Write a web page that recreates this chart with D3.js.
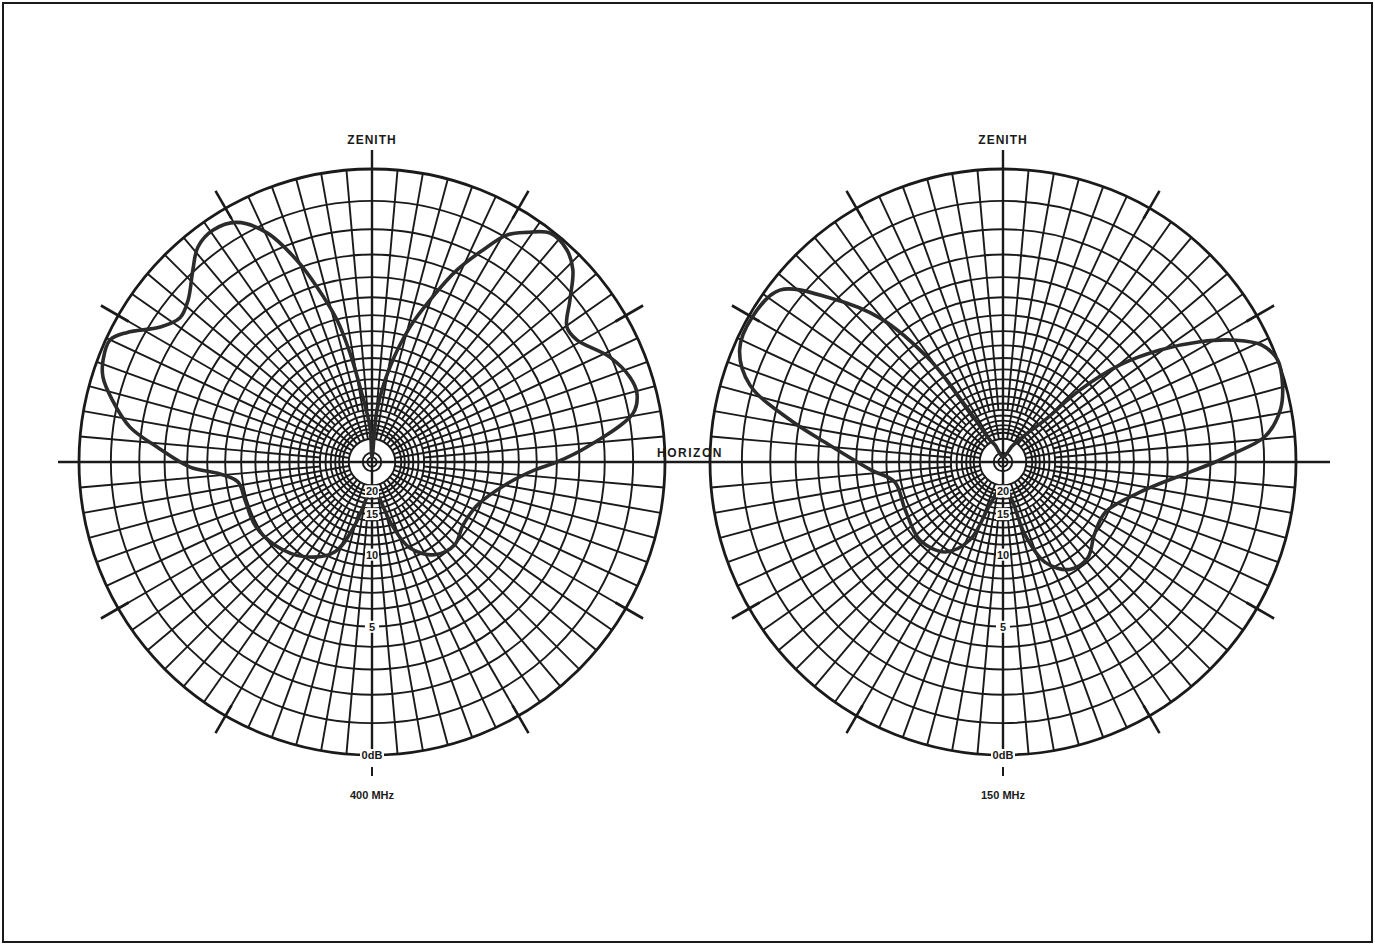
<!DOCTYPE html>
<html>
<head>
<meta charset="utf-8">
<script src="https://cdn.jsdelivr.net/npm/d3@7"></script>
<style>
  body { margin: 0; background: #fff; }
  svg { display: block; }
</style>
</head>
<body>
<svg id="chart" width="1375" height="945"></svg>
<script>
// Grid definition: concentric circles every 1 dB, spokes every 5 degrees
const gridDb = d3.range(0, 21);
const spokeAngles = d3.range(0, 360, 5);
const tickAngles = [30, 60, 120, 150, 210, 240, 300, 330];
const axisLabels = [
  { db: 20, text: "20" },
  { db: 15, text: "15" },
  { db: 10, text: "10" },
  { db: 5, text: "5" },
  { db: 0, text: "0dB" }
];

// Elevation pattern at 400 MHz: angle (deg, counter-clockwise from horizon) and level below peak (dB)
const angles400 = [0, 4, 10.6, 14.6, 18.2, 23.8, 30.8, 34.7, 39.3, 43.7, 47.4, 52.1, 56, 59.3, 62.4, 66.1, 70.3, 74.3, 79.3, 84.5, 90,
  93.3, 99.1, 101.4, 103.8, 107.4, 110.4, 114.6, 119.4, 124.4, 129, 133, 138.6, 143.1, 147.5, 152.1, 155, 159.2, 162.5, 166.6, 171.8, 176, 181.6,
  184.5, 188.5, 196.7, 208.3, 220.6, 234.8, 247.6, 254.9, 263, 270, 280, 287.6, 293.8, 304.1, 315, 325.3, 337.9, 350.2, 357.2];
const db400 = [4.0, 2.67, 0.85, 0.59, 0.66, 1.04, 1.79, 1.84, 1.18, 0.46, 0.15, 0.09, 0.49, 0.91, 1.77, 2.89, 4.63, 6.41, 9.63, 15.0, 35,
  18.5, 11.7, 8.43, 6.05, 4.09, 2.69, 1.31, 0.55, 0.36, 0.5, 0.95, 1.55, 1.73, 1.34, 0.49, 0.12, 0.16, 0.33, 0.81, 1.57, 2.67, 4.14,
  5.67, 6.7, 6.89, 6.86, 7.21, 8.05, 9.6, 13.1, 19.0, 21.4, 18.8, 12.9, 9.87, 8.35, 7.97, 8.45, 8.2, 6.73, 5.09];

// Elevation pattern at 150 MHz
const angles150 = [0, 1.8, 5.5, 10.6, 15.4, 20.4, 24.3, 27.7, 31.4, 35.5, 39.7, 43.1, 45, 50, 60, 90, 115, 120.6, 123.7, 125.6, 130.5, 136.5, 142.4,
  150, 156.9, 163.1, 168.8, 174.4, 183.4, 190.5, 206, 223.2, 237.2, 247, 253, 270, 283.3, 286.8, 292.8, 301.8, 311.5, 321.6, 333.9, 347.6, 356.9];
const db150 = [2.8, 2.2, 0.94, 0.33, 0.09, 0.0, 0.27, 0.97, 2.07, 3.63, 5.7, 8.9, 13.9, 18, 24, 35, 24, 21.2, 12.6, 7.4, 3.8, 1.8, 0.34,
  0.1, 0.2, 0.89, 2.6, 4.5, 6.9, 8.5, 8.6, 8.2, 8.75, 10.8, 16.3, 22, 17.5, 11.7, 8.6, 7.3, 7.2, 8.0, 8.2, 6.4, 3.9];

const panels = [
  { cx: 372, cy: 462, angles: angles400, db: db400, caption: "400 MHz" },
  { cx: 1003, cy: 462, angles: angles150, db: db150, caption: "150 MHz" }
];

const R = 293;
const ink = "#1a1a1a";
const gridW = 1.9;
const svg = d3.select("#chart");

// relative field strength (linear) -> radius
const rScale = d3.scaleLinear().domain([0, 1]).range([0, R]);
const rOfDb = db => rScale(Math.pow(10, -db / 20));
const toRad = a => a * Math.PI / 180;
// d3 radial angle: clockwise from 12 o'clock
const d3Angle = a => toRad(90 - a);

// page frame
svg.append("rect")
  .attr("x", 3).attr("y", 3).attr("width", 1369).attr("height", 939)
  .attr("fill", "none").attr("stroke", ink).attr("stroke-width", 2);

// horizon line across both plots
svg.append("line")
  .attr("x1", 58).attr("x2", 1330).attr("y1", 462).attr("y2", 462)
  .attr("stroke", ink).attr("stroke-width", 2.4);

panels.forEach(p => {
  const g = svg.append("g").attr("transform", `translate(${p.cx},${p.cy})`);
  const rInner = rOfDb(22);

  // spokes: the 10-degree ones reach the centre disc, the others start further out
  g.append("g").selectAll("line").data(spokeAngles).join("line")
    .attr("x1", a => (a % 10 === 0 ? rInner : rOfDb(15)) * Math.cos(toRad(a)))
    .attr("y1", a => -(a % 10 === 0 ? rInner : rOfDb(15)) * Math.sin(toRad(a)))
    .attr("x2", a => R * Math.cos(toRad(a)))
    .attr("y2", a => -R * Math.sin(toRad(a)))
    .attr("stroke", ink).attr("stroke-width", gridW);

  // dB circles
  g.append("g").selectAll("circle").data(gridDb).join("circle")
    .attr("r", d => rOfDb(d))
    .attr("fill", "none").attr("stroke", ink)
    .attr("stroke-width", d => d === 0 ? 2.8 : gridW);

  // centre rings
  g.append("g").selectAll("circle").data([22, 30, 36]).join("circle")
    .attr("r", d => rOfDb(d))
    .attr("fill", "none").attr("stroke", ink).attr("stroke-width", gridW);

  // 30-degree ticks across the outer circle
  g.append("g").selectAll("line").data(tickAngles).join("line")
    .attr("x1", a => (R - 12) * Math.cos(toRad(a)))
    .attr("y1", a => -(R - 12) * Math.sin(toRad(a)))
    .attr("x2", a => (R + 20) * Math.cos(toRad(a)))
    .attr("y2", a => -(R + 20) * Math.sin(toRad(a)))
    .attr("stroke", ink).attr("stroke-width", 2.6);

  // zenith axis
  g.append("line").attr("x1", 0).attr("x2", 0).attr("y1", -R - 19).attr("y2", R)
    .attr("stroke", ink).attr("stroke-width", 2.4);
  g.append("line").attr("x1", 0).attr("x2", 0).attr("y1", R + 12).attr("y2", R + 21)
    .attr("stroke", ink).attr("stroke-width", 2);

  // pattern
  const pts = p.angles.map((a, i) => [d3Angle(a), rOfDb(p.db[i])]);
  const line = d3.lineRadial().curve(d3.curveCatmullRomClosed.alpha(0.5));
  g.append("path").attr("d", line(pts))
    .attr("fill", "none").attr("stroke", "#2b2b2b").attr("stroke-width", 3.6)
    .attr("stroke-linejoin", "round");

  // dB labels on the lower axis
  const lab = g.append("g").selectAll("g").data(axisLabels).join("g")
    .attr("transform", d => `translate(0,${rOfDb(d.db)})`);
  lab.append("rect")
    .attr("x", d => d.text.length > 2 ? -12 : -7).attr("y", -6)
    .attr("width", d => d.text.length > 2 ? 24 : 14).attr("height", 12)
    .attr("fill", "#fff");
  lab.append("text").text(d => d.text)
    .attr("text-anchor", "middle").attr("dy", "0.35em")
    .attr("font-family", "Liberation Sans, Arial, sans-serif")
    .attr("font-size", 11).attr("font-weight", "bold").attr("fill", ink);

  // titles
  g.append("text").text("ZENITH")
    .attr("x", 0).attr("y", -R - 25)
    .attr("text-anchor", "middle")
    .attr("font-family", "Liberation Sans, Arial, sans-serif")
    .attr("font-size", 12).attr("font-weight", "bold").attr("letter-spacing", 1)
    .attr("fill", ink);
  g.append("text").text(p.caption)
    .attr("x", 0).attr("y", R + 44)
    .attr("text-anchor", "middle")
    .attr("font-family", "Liberation Sans, Arial, sans-serif")
    .attr("font-size", 11).attr("font-weight", "bold")
    .attr("fill", ink);
});

svg.append("text").text("HORIZON")
  .attr("x", 690).attr("y", 457)
  .attr("text-anchor", "middle")
  .attr("font-family", "Liberation Sans, Arial, sans-serif")
  .attr("font-size", 12).attr("font-weight", "bold").attr("letter-spacing", 1.5)
  .attr("fill", ink);
</script>
</body>
</html>
